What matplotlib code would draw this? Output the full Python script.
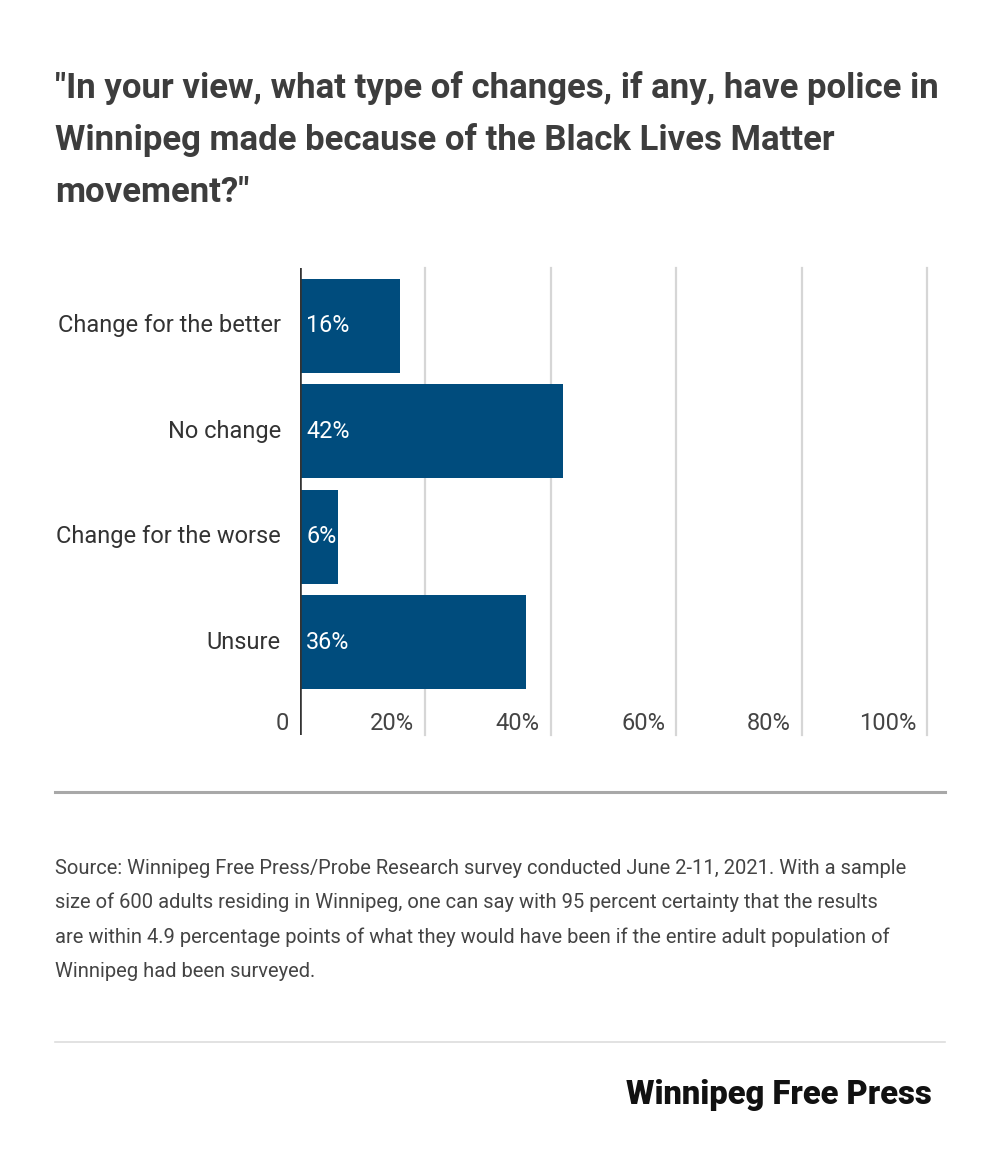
import matplotlib
matplotlib.use("Agg")
import matplotlib.pyplot as plt
import matplotlib.transforms as mtransforms

categories = ["Change for the better", "No change", "Change for the worse", "Unsure"]
values = [16, 42, 6, 36]
xticks = [0, 20, 40, 60, 80, 100]
xtick_labels = ["0", "20%", "40%", "60%", "80%", "100%"]

title_lines = ['"In your view, what type of changes, if any, have police in',
               'Winnipeg made because of the Black Lives Matter',
               'movement?"']
source_lines = ["Source: Winnipeg Free Press/Probe Research survey conducted June 2-11, 2021. With a sample",
                "size of 600 adults residing in Winnipeg, one can say with 95 percent certainty that the results",
                "are within 4.9 percentage points of what they would have been if the entire adult population of",
                "Winnipeg had been surveyed."]

plt.rcParams['font.family'] = ['Roboto', 'DejaVu Sans']

W, H = 1000, 1156
fig = plt.figure(figsize=(W / 100, H / 100), dpi=100)
fig.patch.set_facecolor("white")

def fx(px):
    return px / W

def fy(py):
    return 1 - py / H

# Title
for i, line in enumerate(title_lines):
    fig.text(fx(55), fy(88 + 52 * i), line, fontsize=25, fontweight='bold',
             color='#3d3d3d', ha='left', va='center')

# Axes
ax = fig.add_axes([fx(300), fy(735), fx(927) - fx(300), fy(268) - fy(735)])
ax.set_xlim(0, 100)
ax.set_ylim(3.88, -0.55)
for s in ax.spines.values():
    s.set_visible(False)
ax.set_xticks([])
ax.set_yticks([])

for t in xticks[1:]:
    ax.axvline(t, color='#d6d6d6', lw=1.6, zorder=0, clip_on=False)

bar_color = '#004c7d'
ypos = list(range(len(categories)))
ax.barh(ypos, values, height=0.89, color=bar_color, zorder=2)
ax.axvline(0, color='#333333', lw=2.6, zorder=3)

off_left = mtransforms.ScaledTranslation(-11 / 100, 0, fig.dpi_scale_trans)
off_right = mtransforms.ScaledTranslation(6 / 100, 0, fig.dpi_scale_trans)
off_cat = mtransforms.ScaledTranslation(-19 / 100, 0, fig.dpi_scale_trans)

for y, cat, v in zip(ypos, categories, values):
    ax.text(0, y, cat, ha='right', va='center', fontsize=17, color='#333333',
            transform=ax.transData + off_cat)
    ax.text(0, y, f"{v}%", ha='left', va='center', fontsize=16.8, color='white',
            transform=ax.transData + off_right, zorder=4)

blend = mtransforms.blended_transform_factory(ax.transData, ax.transAxes)
for t, lab in zip(xticks, xtick_labels):
    ax.text(t, 0.025, lab, ha='right', va='center', fontsize=17, color='#444444',
            transform=blend + off_left)

# Separator
fig.add_artist(plt.Line2D([fx(55), fx(945)], [fy(792), fy(792)], color='#a8a8a8', lw=2.2))

for i, line in enumerate(source_lines):
    fig.text(fx(55), fy(868 + 34.5 * i), line, fontsize=14.5, color='#444444',
             ha='left', va='center')

fig.add_artist(plt.Line2D([fx(55), fx(945)], [fy(1042), fy(1042)], color='#dddddd', lw=1.2))

fig.text(fx(932), fy(1095), "Winnipeg Free Press", fontsize=23.6, fontweight='black',
         color='#111111', ha='right', va='center', family=['Roboto', 'DejaVu Sans'])

fig.savefig("out.png", dpi=100, facecolor='white')
